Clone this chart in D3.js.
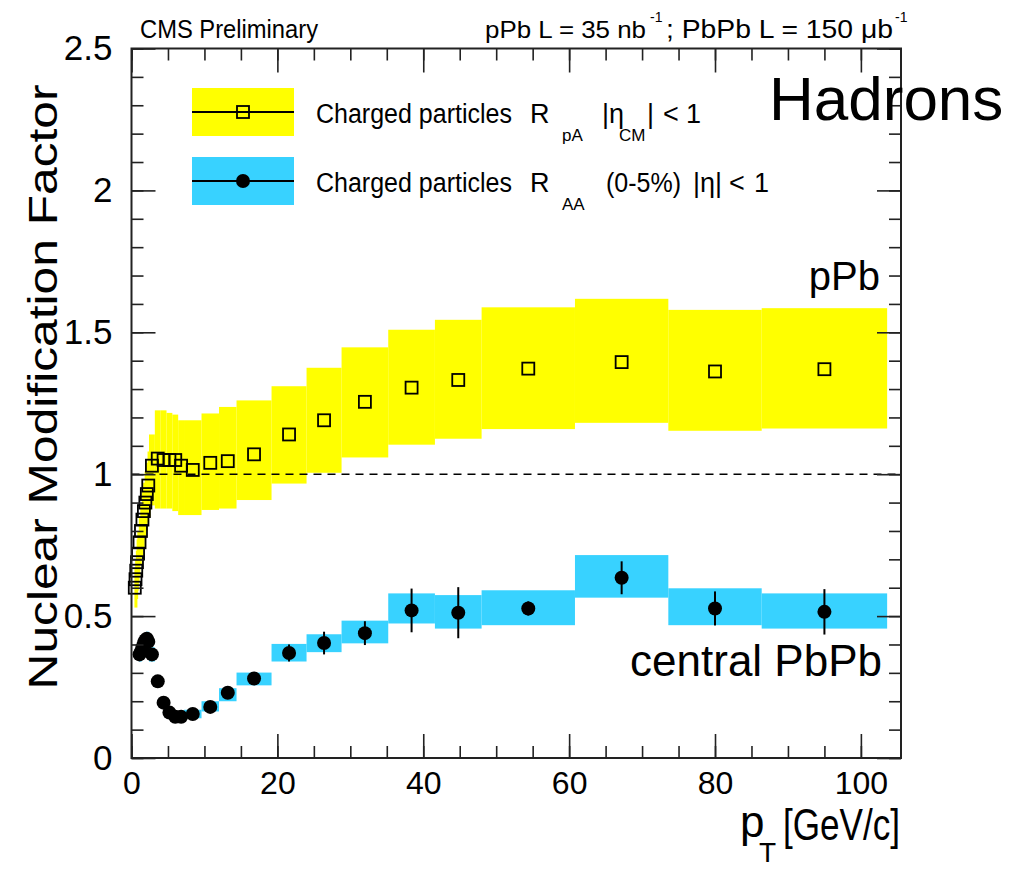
<!DOCTYPE html>
<html>
<head>
<meta charset="utf-8">
<script src="https://cdnjs.cloudflare.com/ajax/libs/d3/7.8.5/d3.min.js"></script>
<style>
body { margin: 0; background: #fff; }
svg { display: block; background: #fff; }
text { font-family: "Liberation Sans", Arial, Helvetica, sans-serif; fill: #000; }
</style>
</head>
<body>
<svg id="svg"></svg>
<script>
// pPb charged particles R_pA, |eta_CM| < 1
var ppbEdges = [0.4,0.5,0.6,0.7,0.8,1.0,1.2,1.4,1.6,1.8,2.0,2.2,2.4,3.2,4.0,4.8,5.6,6.4,7.2,9.6,12.0,14.4,19.2,24.0,28.8,35.2,41.6,48.0,60.8,73.6,86.4,103.6]
var ppbPt = [0.45,0.55,0.65,0.75,0.9,1.1,1.3,1.5,1.7,1.9,2.1,2.3,2.8,3.6,4.4,5.2,6.0,6.8,8.4,10.8,13.2,16.8,21.6,26.4,32,38.4,44.8,54.4,67.2,80,95]
var ppbR = [0.60,0.63,0.66,0.69,0.72,0.76,0.80,0.84,0.87,0.90,0.93,0.96,1.03,1.055,1.05,1.05,1.05,1.03,1.015,1.04,1.046,1.07,1.14,1.19,1.255,1.305,1.332,1.372,1.395,1.362,1.37]
var ppbSysLo = [0.53,0.56,0.59,0.62,0.64,0.68,0.71,0.74,0.77,0.80,0.83,0.85,0.89,0.879,0.879,0.879,0.870,0.856,0.856,0.874,0.879,0.909,0.967,1.005,1.059,1.104,1.125,1.159,1.181,1.153,1.161]
var ppbSysHi = [0.67,0.70,0.73,0.77,0.80,0.85,0.89,0.94,0.97,1.01,1.04,1.08,1.14,1.225,1.225,1.216,1.21,1.19,1.19,1.214,1.237,1.26,1.31,1.375,1.447,1.509,1.544,1.588,1.618,1.579,1.585]

// PbPb charged particles R_AA (0-5%), |eta| < 1
var pbpbEdges = [1.0,1.2,1.4,1.6,1.8,2.0,2.2,2.4,3.2,4.0,4.8,5.6,6.4,7.2,9.6,12.0,14.4,19.2,24.0,28.8,35.2,41.6,48.0,60.8,73.6,86.4,103.6]
var pbpbPt = [1.1,1.3,1.5,1.7,1.9,2.1,2.3,2.8,3.6,4.4,5.2,6.0,6.8,8.4,10.8,13.2,16.8,21.6,26.4,32,38.4,44.8,54.4,67.2,80,95]
var pbpbR = [0.365,0.375,0.39,0.405,0.415,0.42,0.41,0.365,0.27,0.195,0.16,0.145,0.145,0.155,0.18,0.23,0.28,0.37,0.405,0.44,0.52,0.512,0.527,0.635,0.527,0.515]
var pbpbStat = [0.005,0.005,0.005,0.005,0.005,0.005,0.005,0.005,0.005,0.005,0.005,0.005,0.005,0.005,0.006,0.008,0.012,0.03,0.04,0.042,0.077,0.09,0.025,0.058,0.06,0.08]
var pbpbSysLo = [0.34,0.35,0.365,0.38,0.39,0.395,0.385,0.34,0.25,0.18,0.145,0.13,0.13,0.14,0.164,0.2,0.256,0.34,0.373,0.404,0.474,0.456,0.468,0.565,0.468,0.456]
var pbpbSysHi = [0.39,0.40,0.415,0.43,0.44,0.445,0.435,0.39,0.29,0.21,0.175,0.16,0.16,0.17,0.2,0.246,0.301,0.402,0.436,0.484,0.58,0.574,0.591,0.715,0.598,0.58]

var xMajor = [0,20,40,60,80,100]
var xMinor = d3.range(0,105,5)
var yMajor = [0,0.5,1,1.5,2,2.5]
var yMinor = d3.range(0,26).map(function(i){ return i/10 })

var W = 1021, H = 870
var box = {left: 131.5, right: 901, top: 48.5, bottom: 758}
var yellow = '#ffff00', blue = '#38d2ff'

var svg = d3.select('#svg').attr('width', W).attr('height', H)

var x = d3.scaleLinear().domain([0,105.5]).range([box.left, box.right])
var y = d3.scaleLinear().domain([0,2.5]).range([box.bottom, box.top])

function bands(g, edges, lo, hi, color) {
  g.append('g').selectAll('rect')
    .data(lo)
    .enter().append('rect')
    .attr('x', function(d,i){ return x(edges[i]) })
    .attr('width', function(d,i){ return Math.max(x(edges[i+1]) - x(edges[i]), 3) })
    .attr('y', function(d,i){ return y(hi[i]) })
    .attr('height', function(d,i){ return y(lo[i]) - y(hi[i]) })
    .attr('fill', color)
}

var plot = svg.append('g')
bands(plot, ppbEdges, ppbSysLo, ppbSysHi, yellow)
bands(plot, pbpbEdges, pbpbSysLo, pbpbSysHi, blue)

// unity line
plot.append('line')
  .attr('x1', x(0)).attr('x2', box.right)
  .attr('y1', y(1)).attr('y2', y(1))
  .attr('stroke', '#000').attr('stroke-width', 1.5)
  .attr('stroke-dasharray', '8,6')

// pPb open squares
plot.selectAll('rect.sq')
  .data(ppbPt)
  .enter().append('rect')
  .attr('class', 'sq')
  .attr('x', function(d){ return x(d) - 6 })
  .attr('y', function(d,i){ return y(ppbR[i]) - 6 })
  .attr('width', 12).attr('height', 12)
  .attr('fill', 'none').attr('stroke', '#000').attr('stroke-width', 1.8)

// PbPb stat errors + filled circles
plot.selectAll('line.err')
  .data(pbpbPt)
  .enter().append('line')
  .attr('x1', function(d){ return x(d) }).attr('x2', function(d){ return x(d) })
  .attr('y1', function(d,i){ return y(pbpbR[i] - pbpbStat[i]) })
  .attr('y2', function(d,i){ return y(pbpbR[i] + pbpbStat[i]) })
  .attr('stroke', '#000').attr('stroke-width', 2)
plot.selectAll('circle')
  .data(pbpbPt)
  .enter().append('circle')
  .attr('cx', function(d){ return x(d) })
  .attr('cy', function(d,i){ return y(pbpbR[i]) })
  .attr('r', 7)
  .attr('fill', '#000')

// axes, ROOT style: ticks inside on all four sides
function axis(a, values, size, fmt) {
  return a.tickValues(values).tickSizeInner(size).tickSizeOuter(0).tickFormat(fmt || '')
}
var ax = svg.append('g').attr('class', 'axes')
ax.append('g').attr('transform', 'translate(0,' + box.bottom + ')')
  .call(axis(d3.axisBottom(x), xMinor, -12))
ax.append('g').attr('transform', 'translate(0,' + box.bottom + ')')
  .call(axis(d3.axisBottom(x), xMajor, -24, function(d){ return d }).tickPadding(13))
  .selectAll('text').attr('font-size', 32)
ax.append('g').attr('transform', 'translate(0,' + box.top + ')')
  .call(axis(d3.axisTop(x), xMinor, -12))
ax.append('g').attr('transform', 'translate(0,' + box.top + ')')
  .call(axis(d3.axisTop(x), xMajor, -24))
ax.append('g').attr('transform', 'translate(' + box.left + ',0)')
  .call(axis(d3.axisLeft(y), yMinor, -12))
ax.append('g').attr('transform', 'translate(' + box.left + ',0)')
  .call(axis(d3.axisLeft(y), yMajor, -24, function(d){ return String(d) }).tickPadding(19))
  .selectAll('text').attr('font-size', 35)
ax.append('g').attr('transform', 'translate(' + box.right + ',0)')
  .call(axis(d3.axisRight(y), yMinor, -12))
ax.append('g').attr('transform', 'translate(' + box.right + ',0)')
  .call(axis(d3.axisRight(y), yMajor, -24))
ax.selectAll('.domain').remove()
ax.selectAll('.tick line').attr('stroke', '#222').attr('stroke-width', 1.6)
ax.selectAll('.tick text').attr('fill', '#000').style('font-family', '"Liberation Sans", Arial, sans-serif')

svg.append('rect')
  .attr('x', box.left).attr('y', box.top)
  .attr('width', box.right - box.left).attr('height', box.bottom - box.top)
  .attr('fill', 'none').attr('stroke', '#222').attr('stroke-width', 2)

function label(txt, px, py, size, opts) {
  opts = opts || {}
  var t = svg.append('text').attr('x', px).attr('y', py).attr('font-size', size).text(txt)
  if (opts.len) t.attr('textLength', opts.len).attr('lengthAdjust', 'spacingAndGlyphs')
  if (opts.anchor) t.attr('text-anchor', opts.anchor)
  return t
}

// header
label('CMS Preliminary', 140, 38, 25, {len: 178})
label('pPb L = 35 nb', 485, 38, 24, {len: 161})
label('-1', 650, 22, 14)
label('; PbPb L = 150 \u03bcb', 666, 38, 26, {len: 227})
label('-1', 895, 22, 14)

// axis titles
label('p', 740, 837, 44)
label('T', 759, 862, 28)
label('[GeV/c]', 783, 840, 44, {len: 117})
svg.append('text')
  .attr('transform', 'translate(57,387) rotate(-90)')
  .attr('text-anchor', 'middle')
  .attr('font-size', 40)
  .attr('textLength', 605).attr('lengthAdjust', 'spacingAndGlyphs')
  .text('Nuclear Modification Factor')

// legend
var leg = [
  {y0: 88, y1: 136, color: yellow, marker: 'square'},
  {y0: 157, y1: 205, color: blue, marker: 'circle'}
]
leg.forEach(function(l) {
  var cy = (l.y0 + l.y1) / 2
  svg.append('rect').attr('x', 192).attr('y', l.y0).attr('width', 102).attr('height', l.y1 - l.y0).attr('fill', l.color)
  svg.append('line').attr('x1', 192).attr('x2', 294).attr('y1', cy).attr('y2', cy).attr('stroke', '#000').attr('stroke-width', 2)
  if (l.marker === 'square') {
    svg.append('rect').attr('x', 237).attr('y', cy - 6).attr('width', 12).attr('height', 12)
      .attr('fill', 'none').attr('stroke', '#000').attr('stroke-width', 1.8)
  } else {
    svg.append('circle').attr('cx', 243).attr('cy', cy).attr('r', 7).attr('fill', '#000')
  }
})
label('Charged particles', 316, 123, 27, {len: 196})
label('R', 530, 123, 27)
label('pA', 562, 141, 17)
label('|\u03b7', 602, 123, 27)
label('CM', 619, 141, 17)
label('|', 647, 123, 27)
label('<', 663, 123, 27)
label('1', 686, 123, 27)
label('Charged particles', 316, 192, 27, {len: 196})
label('R', 530, 192, 27)
label('AA', 562, 210, 17)
label('(0-5%)', 606, 192, 27, {len: 75})
label('|\u03b7|', 693, 192, 27)
label('<', 729, 192, 27)
label('1', 754, 192, 27)

// annotations
label('Hadrons', 769, 120, 62)
label('pPb', 880, 290, 40, {anchor: 'end'})
label('central PbPb', 882, 676, 44, {anchor: 'end'})
</script>
</body>
</html>
